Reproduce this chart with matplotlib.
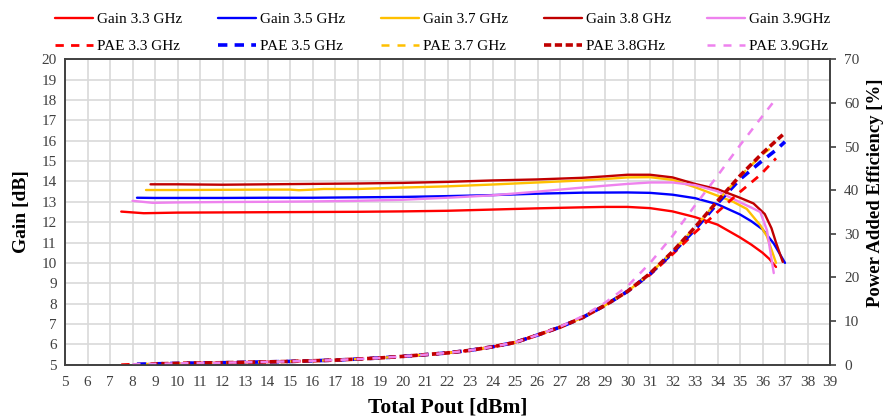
import matplotlib
matplotlib.use("Agg")
import matplotlib.pyplot as plt
from matplotlib.ticker import MultipleLocator

plt.rcParams['font.family'] = ['Liberation Serif', 'DejaVu Serif']

# ---- Gain curves (Pout in dBm, gain in dB) ----
pout_g33 = [7.5, 8.5, 10, 12, 14, 16, 18, 20, 22, 24, 26, 28, 29, 30, 31, 32, 33, 34, 35, 35.5, 36, 36.3, 36.6]
gain_g33 = [12.52, 12.44, 12.47, 12.48, 12.49, 12.50, 12.51, 12.53, 12.56, 12.62, 12.68, 12.73, 12.75, 12.75, 12.69, 12.53, 12.25, 11.88, 11.25, 10.9, 10.5, 10.2, 9.8]

pout_g35 = [8.2, 9, 10, 12, 14, 16, 18, 20, 22, 24, 26, 28, 30, 31, 32, 33, 34, 35, 35.5, 36, 36.5, 37]
gain_g35 = [13.20, 13.19, 13.19, 13.19, 13.20, 13.20, 13.22, 13.24, 13.28, 13.33, 13.40, 13.45, 13.46, 13.44, 13.35, 13.18, 12.88, 12.38, 12.05, 11.65, 10.95, 10.0]

pout_g37 = [8.6, 10, 12, 14, 15, 15.4, 16, 16.5, 18, 20, 22, 24, 26, 28, 29, 30, 31, 32, 33, 34, 34.7, 35.3, 35.9, 36.2, 36.6]
gain_g37 = [13.58, 13.58, 13.59, 13.60, 13.60, 13.57, 13.60, 13.63, 13.63, 13.70, 13.76, 13.85, 13.95, 14.05, 14.12, 14.20, 14.21, 14.08, 13.72, 13.30, 13.0, 12.65, 11.85, 11.3, 10.0]

pout_g38 = [8.8, 10, 12, 14, 16, 18, 20, 22, 24, 26, 28, 29, 30, 31, 32, 33, 34, 35, 35.6, 36.1, 36.4, 36.6, 36.9]
gain_g38 = [13.86, 13.86, 13.84, 13.86, 13.88, 13.90, 13.93, 13.98, 14.05, 14.10, 14.18, 14.25, 14.33, 14.33, 14.20, 13.88, 13.62, 13.20, 12.92, 12.40, 11.7, 11.0, 10.05]

pout_g39 = [8.0, 8.9, 10, 12, 14, 16, 18, 20, 22, 24, 26, 28, 30, 31, 32, 33, 34, 35, 35.5, 35.9, 36.2, 36.5]
gain_g39 = [13.05, 12.95, 12.97, 12.99, 13.00, 13.02, 13.05, 13.10, 13.20, 13.32, 13.50, 13.70, 13.88, 13.95, 13.95, 13.82, 13.52, 12.98, 12.72, 12.5, 11.6, 9.5]

# ---- PAE curves (Pout in dBm, PAE in %) ----
pout_p33 = [7.5, 8, 9, 10, 11, 12, 13, 14, 15, 16, 17, 18, 19, 20, 21, 22, 23, 24, 25, 26, 27, 28, 29, 30, 31, 32, 33, 34, 35, 35.9, 36.6]
pae_p33 = [0.0, 0.1, 0.2, 0.3, 0.4, 0.45, 0.55, 0.65, 0.75, 0.9, 1.05, 1.3, 1.55, 1.9, 2.3, 2.7, 3.3, 4.1, 5.1, 6.8, 8.6, 10.8, 13.6, 16.8, 20.6, 25.3, 30.3, 35.0, 39.6, 43.5, 47.3]

pout_p35 = [8.2, 9, 10, 11, 12, 13, 14, 15, 16, 17, 18, 19, 20, 21, 22, 23, 24, 25, 26, 27, 28, 29, 30, 31, 32, 33, 34, 35, 36, 36.6, 37]
pae_p35 = [0.1, 0.2, 0.3, 0.4, 0.45, 0.55, 0.65, 0.75, 0.9, 1.05, 1.3, 1.55, 1.9, 2.3, 2.7, 3.3, 4.1, 5.1, 6.8, 8.6, 10.8, 13.6, 16.8, 20.8, 25.6, 31.0, 37.0, 42.5, 46.8, 49.2, 51.1]

pout_p37 = [8.6, 9, 10, 11, 12, 13, 14, 15, 16, 17, 18, 19, 20, 21, 22, 23, 24, 25, 26, 27, 28, 29, 30, 31, 32, 33, 34, 35, 36, 36.5]
pae_p37 = [0.15, 0.2, 0.3, 0.4, 0.45, 0.55, 0.65, 0.75, 0.9, 1.05, 1.3, 1.55, 1.9, 2.3, 2.7, 3.3, 4.1, 5.1, 6.8, 8.6, 10.8, 13.6, 16.8, 20.9, 25.9, 31.5, 37.5, 43.2, 48.2, 50.2]

pout_p38 = [8.8, 9, 10, 11, 12, 13, 14, 15, 16, 17, 18, 19, 20, 21, 22, 23, 24, 25, 26, 27, 28, 29, 30, 31, 32, 33, 34, 35, 36, 36.9]
pae_p38 = [0.15, 0.2, 0.3, 0.4, 0.45, 0.55, 0.65, 0.75, 0.9, 1.05, 1.3, 1.55, 1.9, 2.3, 2.7, 3.3, 4.1, 5.1, 6.8, 8.6, 10.8, 13.6, 16.8, 20.9, 25.9, 31.5, 37.5, 43.3, 48.5, 52.7]

pout_p39 = [8.0, 9, 10, 11, 12, 13, 14, 15, 16, 17, 18, 19, 20, 21, 22, 23, 24, 25, 26, 27, 28, 29, 30, 31, 32, 33, 34, 35, 36, 36.5]
pae_p39 = [0.1, 0.2, 0.3, 0.4, 0.45, 0.55, 0.65, 0.75, 0.9, 1.05, 1.3, 1.55, 1.9, 2.3, 2.7, 3.3, 4.1, 5.1, 6.8, 8.7, 11.1, 14.2, 18.0, 23.3, 29.5, 36.5, 43.3, 50.3, 57.0, 60.3]

gain_labels = ['Gain 3.3 GHz', 'Gain 3.5 GHz', 'Gain 3.7 GHz', 'Gain 3.8 GHz', 'Gain 3.9GHz']
pae_labels = ['PAE 3.3 GHz', 'PAE 3.5 GHz', 'PAE 3.7 GHz', 'PAE 3.8GHz', 'PAE 3.9GHz']
colors = ['#FF0000', '#0000FF', '#FFC000', '#C00000', '#EE82EE']

gain_series = [(pout_g33, gain_g33), (pout_g35, gain_g35), (pout_g37, gain_g37),
               (pout_g38, gain_g38), (pout_g39, gain_g39)]
pae_series = [(pout_p33, pae_p33), (pout_p35, pae_p35), (pout_p37, pae_p37),
              (pout_p38, pae_p38), (pout_p39, pae_p39)]

# dash styles for the PAE traces
pae_styles = [
    dict(lw=2.0, dashes=(3.0, 2.6)),
    dict(lw=2.6, dashes=(2.6, 2.0)),
    dict(lw=1.8, dashes=(3.2, 3.2)),
    dict(lw=2.6, dashes=(2.0, 1.0)),
    dict(lw=1.8, dashes=(3.2, 3.2)),
]

W, H = 889, 418
fig = plt.figure(figsize=(W / 100, H / 100), dpi=100)
ax = fig.add_axes([65 / W, 1 - 364.7 / H, (830 - 65) / W, (364.7 - 59.3) / H])
ax2 = ax.twinx()

spine_c = '#404040'
tick_c = '#404040'

handles_g = []
for (xs, ys), c, lab in zip(gain_series, colors, gain_labels):
    h, = ax.plot(xs, ys, color=c, lw=1.7, label=lab, solid_capstyle='round')
    handles_g.append(h)

handles_p = []
for (xs, ys), c, lab, st in zip(pae_series, colors, pae_labels, pae_styles):
    h, = ax2.plot(xs, ys, color=c, lw=st['lw'], dashes=st['dashes'], label=lab)
    handles_p.append(h)

ax.set_xlim(5, 39)
ax.set_ylim(5, 20)
ax2.set_ylim(0, 70)
ax.xaxis.set_major_locator(MultipleLocator(1))
ax.yaxis.set_major_locator(MultipleLocator(1))
ax2.yaxis.set_major_locator(MultipleLocator(10))

ax.grid(True, color='#D9D9D9', lw=1.2)
ax.set_axisbelow(True)

for a in (ax, ax2):
    for s in a.spines.values():
        s.set_color(spine_c)
        s.set_linewidth(1.2)

ax.tick_params(axis='both', length=0, labelsize=11, colors=tick_c)
ax.tick_params(axis='x', pad=8)
ax.tick_params(axis='y', pad=6)
ax2.tick_params(axis='y', length=4, width=1.2, color=spine_c, labelsize=11,
                labelcolor=tick_c, pad=6)

ax.set_xlabel('Total Pout [dBm]', fontsize=15.5, fontweight='bold', labelpad=6)
ax.set_ylabel('Gain [dB]', fontsize=14, fontweight='bold', labelpad=8)
ax2.set_ylabel('Power Added Efficiency [%]', fontsize=13.5, fontweight='bold', labelpad=8)
ax2.yaxis.set_label_coords(1.049, 0.562)

# legend: gains on the first row, PAE on the second
order = []
for g, p in zip(handles_g, handles_p):
    order += [g, p]
fig.legend(handles=order, labels=[h.get_label() for h in order], ncol=5,
           loc='upper left', bbox_to_anchor=(47 / W, 1 - 5 / H), frameon=False,
           fontsize=11, handlelength=2.5, handletextpad=0.25, columnspacing=2.35,
           labelspacing=0.85, borderpad=0.0)

fig.savefig('out.png', dpi=100)
